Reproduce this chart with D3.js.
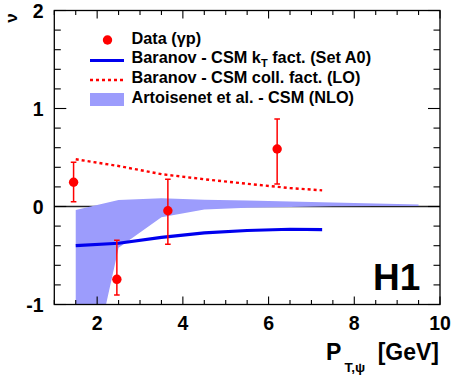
<!DOCTYPE html>
<html><head><meta charset="utf-8">
<script src="https://cdn.jsdelivr.net/npm/d3@7"></script>
<style>
html,body{margin:0;padding:0;background:#fff;}
svg text{font-family:"Liberation Sans",Arial,Helvetica,sans-serif;font-weight:bold;}
</style></head>
<body>
<svg id="c" width="454" height="378"></svg>
<script>
// ---- data ----
const dataX = [1.45, 2.46, 3.65, 6.2];
const dataY = [0.247, -0.743, -0.043, 0.587];
const dataErrPlus = [0.204, 0.398, 0.321, 0.306];
const dataErrMinus = [0.198, 0.160, 0.343, 0.357];

const kTX = [1.5, 2.5, 3.5, 4.5, 5.5, 6.5, 7.25];
const kTY = [-0.40, -0.375, -0.315, -0.27, -0.245, -0.232, -0.235];

const loX = [1.5, 2.5, 3.5, 4.5, 5.5, 6.5, 7.25];
const loY = [0.482, 0.413, 0.33, 0.278, 0.232, 0.188, 0.165];

const nloX = [1.5, 2.5, 3.5, 4.5, 5.5, 6.5, 7.5, 8.5, 9.5];
const nloUpper = [-0.035, 0.066, 0.084, 0.07, 0.06, 0.05, 0.04, 0.03, 0.02];
const nloLower = [-2.4, -0.42, -0.11, -0.03, -0.012, -0.004, 0.003, 0.005, 0.005];

const xTicksMajor = [2, 4, 6, 8, 10];
const yTicksMajor = [-1, 0, 1, 2];
const legendLabels = ["Data (\u03b3p)", "Baranov - CSM k", "Baranov - CSM coll. fact. (LO)", "Artoisenet et al. - CSM (NLO)"];

// ---- layout ----
const svg = d3.select("#c");
const L = 54.3, R = 440, T = 10.5, B = 304.5;
const x = d3.scaleLinear().domain([1, 10]).range([L, R]);
const y = d3.scaleLinear().domain([-1, 2]).range([B, T]);

const red = "#ff0000", blue = "#0000ee", band = "#9c9cfc";

svg.append("clipPath").attr("id", "clip").append("rect")
  .attr("x", L).attr("y", T).attr("width", R - L).attr("height", B - T);
const plot = svg.append("g").attr("clip-path", "url(#clip)");

// zero line
plot.append("line").attr("x1", L).attr("x2", R).attr("y1", y(0)).attr("y2", y(0))
  .attr("stroke", "#222").attr("stroke-width", 1.5);

// NLO band
const area = d3.area().x((d, i) => x(nloX[i])).y0((d, i) => y(nloLower[i])).y1((d, i) => y(nloUpper[i]));
plot.append("path").datum(nloX).attr("d", area).attr("fill", band).attr("stroke", "none");

// lines
const lineGen = (xs) => d3.line().x((d, i) => x(xs[i])).y(d => y(d));
plot.append("path").datum(kTY).attr("d", lineGen(kTX)).attr("fill", "none")
  .attr("stroke", blue).attr("stroke-width", 3.2);
plot.append("path").datum(loY).attr("d", lineGen(loX)).attr("fill", "none")
  .attr("stroke", red).attr("stroke-width", 2.4).attr("stroke-dasharray", "3,3");

// data points
const pts = plot.append("g");
dataX.forEach((xv, i) => {
  const cx = x(xv);
  const top = y(dataY[i] + dataErrPlus[i]), bot = y(dataY[i] - dataErrMinus[i]);
  pts.append("line").attr("x1", cx).attr("x2", cx).attr("y1", top).attr("y2", bot)
    .attr("stroke", red).attr("stroke-width", 1.5);
  [top, bot].forEach(yy => pts.append("line").attr("x1", cx - 2.8).attr("x2", cx + 2.8)
    .attr("y1", yy).attr("y2", yy).attr("stroke", red).attr("stroke-width", 1.5));
  pts.append("circle").attr("cx", cx).attr("cy", y(dataY[i])).attr("r", 4.7).attr("fill", red);
});

// frame
svg.append("rect").attr("x", L).attr("y", T).attr("width", R - L).attr("height", B - T)
  .attr("fill", "none").attr("stroke", "#000").attr("stroke-width", 1.3);

// ticks
const tk = svg.append("g").attr("stroke", "#000").attr("stroke-width", 1.1);
d3.range(1, 10.001, 0.5).forEach(v => {
  const major = xTicksMajor.some(m => Math.abs(m - v) < 1e-6);
  const len = major ? 8 : 4.5;
  tk.append("line").attr("x1", x(v)).attr("x2", x(v)).attr("y1", B).attr("y2", B - len);
  tk.append("line").attr("x1", x(v)).attr("x2", x(v)).attr("y1", T).attr("y2", T + len);
});
d3.range(-1, 2.001, 0.2).forEach(v => {
  const major = yTicksMajor.some(m => Math.abs(m - v) < 1e-6);
  const len = major ? 12 : 6.5;
  tk.append("line").attr("x1", L).attr("x2", L + len).attr("y1", y(v)).attr("y2", y(v));
  tk.append("line").attr("x1", R).attr("x2", R - len).attr("y1", y(v)).attr("y2", y(v));
});

// tick labels
xTicksMajor.forEach(v => svg.append("text").attr("x", x(v)).attr("y", 329.5)
  .attr("text-anchor", "middle").attr("font-size", 19.5).text(v));
yTicksMajor.forEach(v => svg.append("text").attr("x", 43.5).attr("y", y(v) + 7.5)
  .attr("text-anchor", "end").attr("font-size", 19.5).text(v));

// axis titles
svg.append("text").attr("x", 326).attr("y", 360).attr("font-size", 23).text("P");
svg.append("text").attr("x", 344.5).attr("y", 372).attr("font-size", 13.5).text("T,\u03c8");
svg.append("text").attr("x", 439).attr("y", 360).attr("text-anchor", "end").attr("font-size", 23).text("[GeV]");

svg.append("text").attr("transform", "translate(16.5,18) rotate(-90)")
  .attr("text-anchor", "middle").attr("font-size", 17).text("\u03bd");

// H1
svg.append("text").attr("x", 373).attr("y", 290).attr("font-size", 37).text("H1");

// legend
const lg = svg.append("g");
const lx1 = 90, lx2 = 124, tx = 131.5;
const baselines = [44, 62.5, 82.5, 103];
lg.append("circle").attr("cx", 107.5).attr("cy", 40).attr("r", 4.7).attr("fill", red);
lg.append("line").attr("x1", lx1).attr("x2", lx2).attr("y1", 60.5).attr("y2", 60.5)
  .attr("stroke", blue).attr("stroke-width", 3.2);
lg.append("line").attr("x1", lx1).attr("x2", lx2).attr("y1", 80).attr("y2", 80)
  .attr("stroke", red).attr("stroke-width", 2.4).attr("stroke-dasharray", "3,3");
lg.append("rect").attr("x", lx1).attr("y", 93).attr("width", lx2 - lx1).attr("height", 13).attr("fill", band);

legendLabels.forEach((s, i) => {
  const t = lg.append("text").attr("x", tx).attr("y", baselines[i]).attr("font-size", 16.3);
  t.append("tspan").text(s);
  if (i === 1) {
    t.append("tspan").attr("font-size", 11).attr("dy", 4).text("T");
    t.append("tspan").attr("dy", -4).text(" fact. (Set A0)");
  }
});
</script>
</body></html>
